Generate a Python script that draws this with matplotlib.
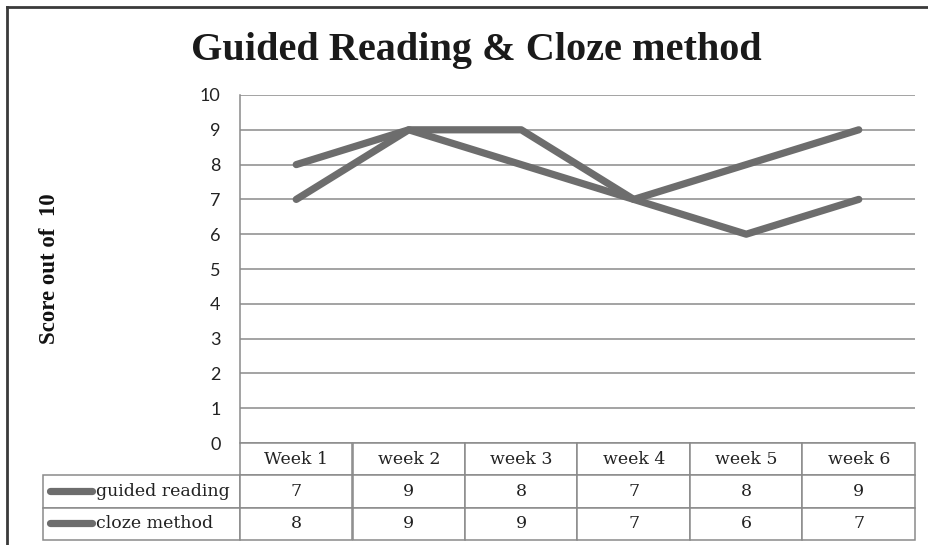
import matplotlib
matplotlib.use('Agg')
import matplotlib.pyplot as plt
from matplotlib.lines import Line2D

weeks = ['Week 1', 'week 2', 'week 3', 'week 4', 'week 5', 'week 6']
series_names = ['guided reading', 'cloze method']
guided = [7, 9, 8, 7, 8, 9]
cloze = [8, 9, 9, 7, 6, 7]
yticks = list(range(0, 11))
title = 'Guided Reading & Cloze method'
ylabel = 'Score out of  10'

W, H = 929, 545
fig = plt.figure(figsize=(W / 100, H / 100), dpi=100)
ax = fig.add_axes([240 / W, 1 - 443 / H, 675 / W, 348 / H])

line_color = '#6d6d6d'
grid_color = '#8a8a8a'
x = list(range(len(weeks)))
for vals in (guided, cloze):
    ax.plot(x, vals, color=line_color, lw=5.2, solid_capstyle='round',
            solid_joinstyle='round', zorder=3, clip_on=False)

ax.set_xlim(-0.5, len(weeks) - 0.5)
ax.set_ylim(0, 10)
ax.set_yticks(yticks)
ax.set_xticks([])
ax.grid(axis='y', color=grid_color, lw=1.1)
ax.set_axisbelow(True)
for s in ['top', 'right', 'bottom']:
    ax.spines[s].set_visible(False)
ax.spines['left'].set_color(grid_color)
ax.spines['left'].set_linewidth(1.1)
ax.tick_params(axis='y', length=0, pad=14, labelsize=13, labelcolor='#222222')
for lab in ax.get_yticklabels():
    lab.set_fontfamily('Lato')

ax.set_ylabel(ylabel, fontfamily='Liberation Serif', fontweight='bold', fontsize=16.5,
              color='#111111')
ax.yaxis.set_label_coords((60 - 240) / 675, 0.5)

# data table
cell_text = [[''] + [str(v) for v in guided], [''] + [str(v) for v in cloze]]
col_labels = [''] + weeks
col_widths = [197] + [112.5] * len(weeks)
tot = sum(col_widths)
tbl = ax.table(cellText=cell_text, colLabels=col_labels,
               colWidths=[c / tot for c in col_widths], cellLoc='center',
               bbox=[(43 - 240) / 675, (443 - 540) / 348, (915 - 43) / 675, 97 / 348])
tbl.auto_set_font_size(False)
tbl.set_fontsize(12.5)
for (r, c), cell in tbl.get_celld().items():
    cell.set_edgecolor(grid_color)
    cell.set_linewidth(1.1)
    cell.get_text().set_fontfamily('DejaVu Serif')
    cell.get_text().set_color('#222222')
tbl[0, 0].visible_edges = 'open'

row_centers = [(443 - 491) / 348, (443 - 523) / 348]
for name, yc in zip(series_names, row_centers):
    ax.plot([(50 - 240) / 675, (92 - 240) / 675], [yc, yc], transform=ax.transAxes,
            color=line_color, lw=5.2, solid_capstyle='round', clip_on=False)
    ax.text((96 - 240) / 675, yc, name, transform=ax.transAxes, ha='left', va='center',
            fontfamily='DejaVu Serif', fontsize=12.5, color='#222222')

fig.text(476 / W, 1 - 60 / H, title, ha='center', va='baseline',
         fontfamily='Liberation Serif', fontweight='bold', fontsize=29, color='#1a1a1a')

# outer frame
fig.add_artist(Line2D([7 / W, 7 / W], [0, 1 - 7 / H], transform=fig.transFigure,
                      color='#3a3a3a', lw=2))
fig.add_artist(Line2D([7 / W, 1], [1 - 7 / H, 1 - 7 / H], transform=fig.transFigure,
                      color='#3a3a3a', lw=2))

fig.savefig('out.png', dpi=100)
